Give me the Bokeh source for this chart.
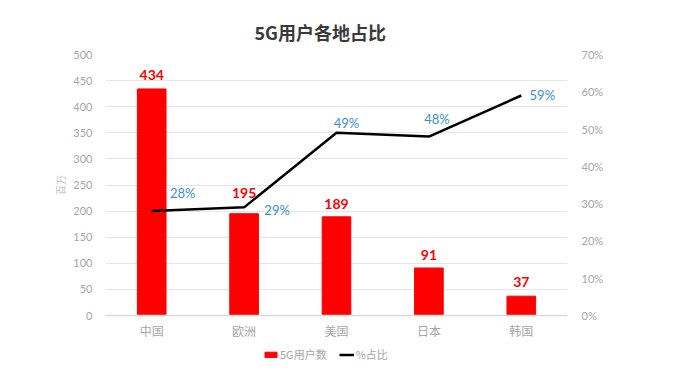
from bokeh.plotting import figure
from bokeh.layouts import column
from bokeh.models import (ColumnDataSource, LinearAxis, Range1d, FactorRange, FixedTicker,
                          NumeralTickFormatter, LabelSet, Legend, LegendItem, Title)
from bokeh.core.properties import value
from bokeh.embed import file_html
from bokeh.resources import INLINE

regions = ["中国", "欧洲", "美国", "日本", "韩国"]
users = [434, 195, 189, 91, 37]
share = [0.28, 0.29, 0.49, 0.48, 0.59]
left_ticks = [0, 50, 100, 150, 200, 250, 300, 350, 400, 450, 500]
right_ticks = [0.0, 0.1, 0.2, 0.3, 0.4, 0.5, 0.6, 0.7]

# label placement (screen pixels), style only
bar_lbl_dy = [14, 21, 13, 13, 14]
pct_lbl_dx = [31, 33, 10, 8, 21]
pct_lbl_dy = [18, -3, 10, 18, 1]

CJK = "Noto Sans CJK SC"
NUM = "Lato"
GRAY = "#a6a6a6"
BAR_COLOR = "#FF0000"
LINE_COLOR = "#000000"

src = ColumnDataSource(dict(
    x=regions, users=users, share=share,
    users_txt=[str(u) for u in users],
    share_txt=[f"{round(s*100)}%" for s in share],
    bdy=bar_lbl_dy, pdx=pct_lbl_dx, pdy=pct_lbl_dy,
))

p = figure(frame_width=462, frame_height=261, x_range=FactorRange(factors=regions),
           y_range=Range1d(0, 500), output_backend="svg", toolbar_location=None,
           min_border_left=105, min_border_right=100, min_border_top=54, min_border_bottom=25)
p.extra_y_ranges = {"pct": Range1d(0, 0.7)}
p.outline_line_color = None

p.add_layout(Title(text="5G用户各地占比", align="left", offset=149,
                   text_font=CJK, text_font_size="18px", text_font_style="bold",
                   text_color="#3a3a3a", standoff=19), "above")

p.vbar(x="x", top="users", width=0.31, source=src, color=BAR_COLOR)
p.line(x="x", y="share", y_range_name="pct", source=src,
       line_color=LINE_COLOR, line_width=2.5)

# axes
p.yaxis.ticker = FixedTicker(ticks=left_ticks)
p.yaxis.axis_line_color = None
p.yaxis.major_tick_line_color = None
p.yaxis.minor_tick_line_color = None
p.yaxis.major_label_text_color = GRAY
p.yaxis.major_label_text_font = NUM
p.yaxis.major_label_text_font_size = "11px"
p.yaxis.major_label_standoff = 7
p.yaxis.axis_label = "百万"
p.yaxis.axis_label_text_font = CJK
p.yaxis.axis_label_text_font_size = "10px"
p.yaxis.axis_label_text_font_style = "normal"
p.yaxis.axis_label_text_color = "#c0c0c0"
p.yaxis.axis_label_standoff = 2

ra = LinearAxis(y_range_name="pct", ticker=FixedTicker(ticks=right_ticks),
                formatter=NumeralTickFormatter(format="0%"))
ra.axis_line_color = None
ra.major_tick_line_color = None
ra.minor_tick_line_color = None
ra.major_label_text_color = GRAY
ra.major_label_text_font = NUM
ra.major_label_text_font_size = "11px"
ra.major_label_standoff = 8
p.add_layout(ra, "right")

p.xaxis.axis_line_color = "#d9d9d9"
p.xaxis.axis_line_width = 1.5
p.xaxis.major_tick_line_color = None
p.xaxis.minor_tick_line_color = None
p.xaxis.major_tick_out = 0
p.xaxis.major_label_text_color = GRAY
p.xaxis.major_label_text_font = CJK
p.xaxis.major_label_text_font_size = "12px"
p.xaxis.major_label_standoff = 6

p.xgrid.grid_line_color = None
p.ygrid.grid_line_color = "#e6e6e6"
p.ygrid.grid_line_width = 1

# labels
p.add_layout(LabelSet(x="x", y="users", text="users_txt", source=src, y_offset="bdy",
                      text_align="center", text_baseline="middle",
                      text_color=BAR_COLOR, text_font=value(NUM), text_font_style="bold",
                      text_font_size="14px"))
p.add_layout(LabelSet(x="x", y="share", text="share_txt", source=src, y_range_name="pct",
                      x_offset="pdx", y_offset="pdy",
                      text_align="center", text_baseline="middle",
                      text_color="#3d8fd1", text_font=value(NUM), text_font_size="13px"))

# legend strip below the chart (its series are hidden; only the legend swatches show)
lg = figure(width=667, height=30, output_backend="svg", toolbar_location=None,
            x_axis_type=None, y_axis_type=None,
            x_range=FactorRange(factors=regions), y_range=Range1d(-2, -1),
            min_border=0)
lg.outline_line_color = None
lg.grid.grid_line_color = None
r_bar = lg.vbar(x="x", top="users", width=0.31, source=src, color=BAR_COLOR, visible=False)
r_line = lg.line(x="x", y="share", source=src, line_color=LINE_COLOR, line_width=2.5,
                 visible=False)
legend = Legend(items=[LegendItem(label="5G用户数", renderers=[r_bar]),
                       LegendItem(label="%占比", renderers=[r_line])],
                orientation="horizontal", location=(158, 9), click_policy="none",
                label_text_font=CJK, label_text_font_size="11px", label_text_color=GRAY,
                glyph_width=15, glyph_height=7, label_height=14, label_standoff=2, spacing=12,
                padding=0, margin=0, border_line_color=None, background_fill_alpha=0)
lg.add_layout(legend)

layout = column(p, lg, spacing=0)
open("out.html", "w").write(file_html(layout, INLINE))
